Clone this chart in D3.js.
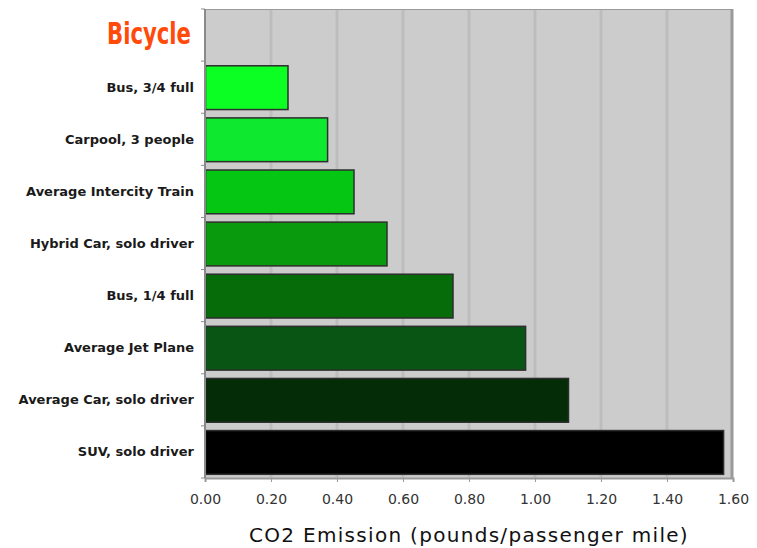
<!DOCTYPE html>
<html>
<head>
<meta charset="utf-8">
<script src="https://cdn.jsdelivr.net/npm/d3@7"></script>
<style>
	body { margin: 0; background: #fff; }
	svg { display: block; }
</style>
</head>
<body>
<script>
// modes of transport, top to bottom
const modes = [
	"Bicycle",
	"Bus, 3/4 full",
	"Carpool, 3 people",
	"Average Intercity Train",
	"Hybrid Car, solo driver",
	"Bus, 1/4 full",
	"Average Jet Plane",
	"Average Car, solo driver",
	"SUV, solo driver"
];

// pounds of CO2 per passenger mile
const emissions = [0, 0.25, 0.37, 0.45, 0.55, 0.75, 0.97, 1.10, 1.57];

const barColors = [
	"#ff4a0a", "#0cff22", "#0ee82e", "#06c614", "#0a9a0e",
	"#066b09", "#085514", "#032c07", "#000000"
];

const xTicks = [0, 0.2, 0.4, 0.6, 0.8, 1.0, 1.2, 1.4, 1.6];

const W = 757, H = 548;
const m = { top: 9, right: 24, bottom: 70, left: 205 };

const svg = d3.select('body').append('svg')
	.attr('width', W)
	.attr('height', H);

const x = d3.scaleLinear()
	.domain([0, 1.6])
	.range([m.left, W - m.right]);

const y = d3.scaleBand()
	.domain(modes)
	.range([m.top, H - m.bottom])
	.paddingInner(0.16)
	.paddingOuter(0.08);

// plot background
svg.append('rect')
	.attr('x', x(0))
	.attr('y', m.top)
	.attr('width', x(1.6) - x(0))
	.attr('height', H - m.bottom - m.top)
	.attr('fill', '#cccccc');

// vertical gridlines
svg.append('g')
	.selectAll('line')
	.data(xTicks.slice(1, -1))
	.enter().append('line')
	.attr('x1', d => x(d))
	.attr('x2', d => x(d))
	.attr('y1', m.top)
	.attr('y2', H - m.bottom)
	.attr('stroke', '#bdbdbd')
	.attr('stroke-width', 3);

// frame: top and right in darker grey
svg.append('line')
	.attr('x1', x(0)).attr('x2', x(1.6))
	.attr('y1', m.top + 0.5).attr('y2', m.top + 0.5)
	.attr('stroke', '#9a9a9a');

svg.append('line')
	.attr('x1', x(1.6) - 1).attr('x2', x(1.6) - 1)
	.attr('y1', m.top).attr('y2', H - m.bottom)
	.attr('stroke', '#9a9a9a')
	.attr('stroke-width', 3);

// bars
svg.append('g')
	.selectAll('rect')
	.data(modes.map((d, i) => ({ mode: d, v: emissions[i], c: barColors[i] })).filter(d => d.v > 0))
	.enter().append('rect')
	.attr('x', x(0) + 0.5)
	.attr('y', d => y(d.mode) + 0.5)
	.attr('width', d => x(d.v) - x(0))
	.attr('height', y.bandwidth())
	.attr('fill', d => d.c)
	.attr('stroke', '#2e2e2e')
	.attr('stroke-width', 1.5);

// x axis
const xAxis = svg.append('g')
	.attr('transform', `translate(0,${H - m.bottom})`)
	.call(d3.axisBottom(x)
		.tickValues(xTicks)
		.tickFormat(d3.format('.2f'))
		.tickSize(4)
		.tickPadding(12));

xAxis.select('.domain').attr('stroke', '#9a9a9a').attr('stroke-width', 2);
xAxis.selectAll('.tick line').attr('stroke', '#9a9a9a');
xAxis.selectAll('.tick text')
	.attr('fill', '#333')
	.style('font-family', 'DejaVu Sans')
	.style('font-size', '14px');

// y axis line with ticks on band boundaries
svg.append('line')
	.attr('x1', x(0)).attr('x2', x(0))
	.attr('y1', m.top).attr('y2', H - m.bottom)
	.attr('stroke', '#8a8a8a')
	.attr('stroke-width', 2);

svg.append('g')
	.selectAll('line')
	.data(d3.range(modes.length + 1))
	.enter().append('line')
	.attr('x1', x(0) - 4).attr('x2', x(0))
	.attr('y1', i => m.top + i * y.step())
	.attr('y2', i => m.top + i * y.step())
	.attr('stroke', '#8a8a8a');

// category labels
svg.append('g')
	.selectAll('text')
	.data(modes.slice(1))
	.enter().append('text')
	.attr('x', x(0) - 11)
	.attr('y', d => y(d) + y.bandwidth() / 2)
	.attr('dy', '0.35em')
	.attr('text-anchor', 'end')
	.style('font-family', 'DejaVu Sans')
	.style('font-weight', 'bold')
	.style('font-size', '13px')
	.attr('fill', '#1a1a1a')
	.text(d => d);

// "Bicycle" gets its own loud label, squeezed to look condensed
svg.append('text')
	.attr('x', x(0) - 14)
	.attr('y', 44)
	.attr('text-anchor', 'end')
	.attr('textLength', 84)
	.attr('lengthAdjust', 'spacingAndGlyphs')
	.style('font-family', 'DejaVu Sans')
	.style('font-weight', 'bold')
	.style('font-size', '30px')
	.attr('fill', barColors[0])
	.text(modes[0]);

// axis title
svg.append('text')
	.attr('x', (x(0) + x(1.6)) / 2)
	.attr('y', 542)
	.attr('text-anchor', 'middle')
	.style('font-family', 'DejaVu Sans')
	.style('font-size', '20px')
	.style('letter-spacing', '1.3px')
	.attr('fill', '#111')
	.text("CO2 Emission (pounds/passenger mile)");
</script>
</body>
</html>
